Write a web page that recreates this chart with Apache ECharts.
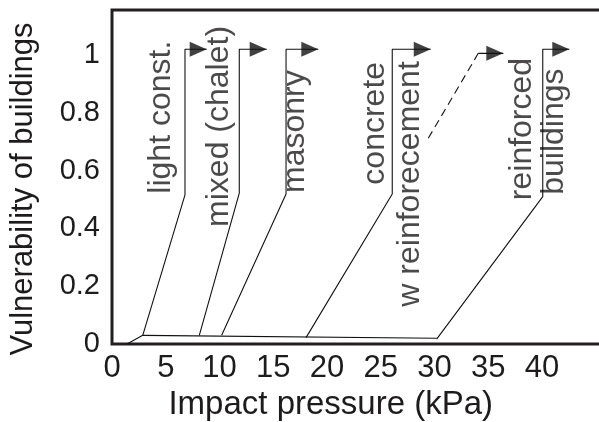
<!DOCTYPE html>
<html><head><meta charset="utf-8">
<script src="https://cdn.jsdelivr.net/npm/echarts@6/dist/echarts.min.js"></script>
<style>html,body{margin:0;padding:0;background:#fff}#c{width:599px;height:422px}</style>
</head><body><div id="c"></div>
<script>
// ---- data ----
const xTickLabels = ['0','5','10','15','20','25','30','35','40'];
const yTickLabels = ['0','0.2','0.4','0.6','0.8','1'];
const baseline = [[1.4,0],[2.86,0.03],[30.2,0.02]];
const lightConst = [[2.86,0.03],[6.79,0.516],[6.79,1.02],[8.81,1.02]];
const mixedChalet = [[8.12,0.03],[11.84,0.522],[11.84,1.02],[14.39,1.02]];
const masonry = [[10.2,0.03],[16.19,0.519],[16.19,1.02],[19.19,1.02]];
const concreteReinf = [[18.05,0.022],[26.07,0.519],[26.07,1.02],[29.65,1.02]];
const dashedPart = [[29.42,0.712],[34.07,1.006]];
const dashedEnd = [[34.07,1.006],[36.4,1.006]];
const reinforcedBuildings = [[30.2,0.017],[40.07,0.51],[40.07,1.02],[42.54,1.02]];
const labelNames = ['light const.','mixed (chalet)','masonry','concrete','w reinforecement','reinforced','buildings'];
const labelX = [4.6, 9.95, 17.07, 24.52, 27.78, 38.16, 41.1];
const labelY = [0.785, 0.753, 0.735, 0.764, 0.554, 0.744, 0.735];

const FONT = 'Liberation Sans, Arial, sans-serif';
const TXT = '#1e1b1c';
const solidCurves = [baseline, lightConst, mixedChalet, masonry, concreteReinf, dashedEnd, reinforcedBuildings];
const arrowCurves = [lightConst, mixedChalet, masonry, concreteReinf, dashedEnd, reinforcedBuildings];

const series = solidCurves.map(d => ({
  type: 'line', data: d, symbol: 'none', silent: true,
  lineStyle: {color: '#111', width: 1.1}
}));
series.push({
  type: 'line', data: dashedPart, symbol: 'none', silent: true,
  lineStyle: {color: '#111', width: 1.1, type: [8, 5]}
});
series.push({
  type: 'scatter', data: arrowCurves.map(d => d[d.length - 1]),
  symbol: 'triangle', symbolSize: [15, 17], symbolRotate: -90, symbolOffset: [-8.5, 0],
  itemStyle: {color: '#111'}, silent: true
});
series.push({
  type: 'scatter', silent: true,
  data: labelNames.map((n, i) => ({name: n, value: [labelX[i], labelY[i]]})),
  symbolSize: 1, itemStyle: {color: 'rgba(0,0,0,0)'},
  label: {show: true, position: 'inside', rotate: 90, formatter: '{b}',
    fontSize: 32, fontFamily: FONT, color: TXT, align: 'center', verticalAlign: 'middle'}
});

const chart = echarts.init(document.getElementById('c'), null, {renderer: 'canvas'});
chart.setOption({
  animation: false,
  backgroundColor: '#fff',
  grid: {left: 112, top: 10, width: 494.5, height: 334, show: true, outerBoundsMode: 'none',
    containLabel: false,
    borderColor: '#231f20', borderWidth: 3, backgroundColor: 'transparent'},
  xAxis: {
    type: 'value', min: 0, max: 46, interval: 5,
    axisLine: {show: false}, axisTick: {show: false}, splitLine: {show: false},
    axisLabel: {fontSize: 31, fontFamily: FONT, color: TXT, margin: 9,
      formatter: v => { const i = Math.round(v / 5); return Math.abs(v - i * 5) < 1e-6 ? (xTickLabels[i] || '') : ''; }},
    name: 'Impact pressure (kPa)', nameLocation: 'middle', nameGap: 36,
    nameTextStyle: {fontSize: 33, fontFamily: FONT, color: TXT, padding: [0, 57, 0, 0]}
  },
  yAxis: {
    type: 'value', min: 0, max: 1.156, interval: 0.2,
    axisLine: {show: false}, axisTick: {show: false}, splitLine: {show: false},
    axisLabel: {fontSize: 29, fontFamily: FONT, color: TXT, margin: 12,
      formatter: v => { const i = Math.round(v / 0.2); return Math.abs(v - i * 0.2) < 1e-6 ? (yTickLabels[i] || '') : ''; }},
    name: 'Vulnerability of buildings', nameLocation: 'middle', nameGap: 73, nameRotate: 90,
    nameTextStyle: {fontSize: 31, fontFamily: FONT, color: TXT, padding: [0, 24, 0, 0]}
  },
  series: series
});
</script>
</body></html>
